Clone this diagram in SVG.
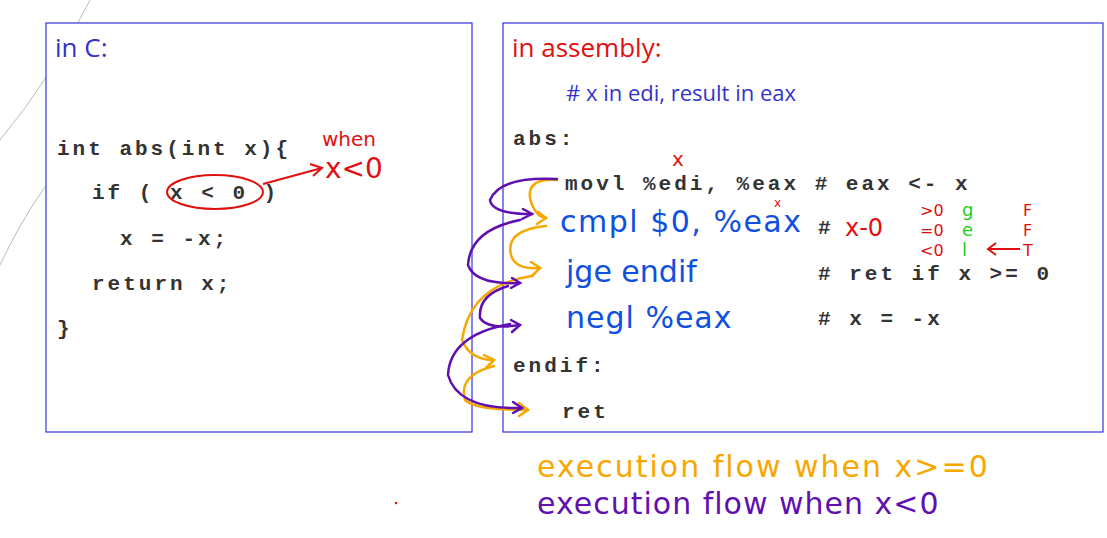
<svg xmlns="http://www.w3.org/2000/svg" width="1107" height="538" viewBox="0 0 1107 538">
<defs>
<style>
.box{fill:#fff;stroke:#3333dd;stroke-width:1.2}
.code{font-family:"Liberation Mono",monospace;font-weight:bold;font-size:21px;letter-spacing:3px;fill:#333}
.o{fill:none;stroke:#f7a800;stroke-width:2.5;stroke-linecap:round}
.p{fill:none;stroke:#6010b0;stroke-width:2.5;stroke-linecap:round}
</style>
</defs>
<rect width="1107" height="538" fill="#fff"/>
<path d="M0,265 Q40,180 95,130 M0,140 Q50,80 90,0" fill="none" stroke="#bbb" stroke-width="1"/>
<g id="c-box">
<rect class="box" x="46" y="23" width="426" height="409"/>
<text x="55" y="57" font-family="Open Sans,sans-serif" font-size="26" fill="#3333cc">in C:</text>
<text class="code" x="57" y="155">int abs(int x){</text>
<text class="code" x="92" y="199">if ( x &lt; 0 )</text>
<text class="code" x="120" y="245">x = -x;</text>
<text class="code" x="92" y="290">return x;</text>
<text class="code" x="57" y="335">}</text>
<ellipse cx="215" cy="192" rx="48" ry="17" fill="none" stroke="#e01010" stroke-width="2"/>
<path d="M263,184 L322,168 M310,164 L322,168 L313,176" fill="none" stroke="#e01010" stroke-width="2"/>
<text x="322" y="146" font-family="DejaVu Sans,sans-serif" font-size="20" fill="#e01010">when</text>
<text x="325" y="178" font-family="DejaVu Sans,sans-serif" font-size="28" fill="#e01010">x&lt;0</text>
</g>
<g id="asm-box">
<rect class="box" x="503" y="23" width="600" height="409"/>
<text x="512" y="57" font-family="Open Sans,sans-serif" font-size="26" fill="#e01010">in assembly:</text>
<text x="566" y="101" font-family="Open Sans,sans-serif" font-size="22" fill="#3333cc"># x in edi, result in eax</text>
<text class="code" x="513" y="145">abs:</text>
<text class="code" x="565" y="190">movl %edi, %eax # eax &lt;- x</text>
<text x="560" y="232" font-family="DejaVu Sans,sans-serif" font-size="30" letter-spacing="1.5" fill="#1050e0">cmpl $0, %eax</text>
<text class="code" x="818" y="234">#</text>
<text x="566" y="282" font-family="DejaVu Sans,sans-serif" font-size="30" fill="#1050e0">jge endif</text>
<text class="code" x="818" y="280"># ret if x &gt;= 0</text>
<text x="566" y="328" font-family="DejaVu Sans,sans-serif" font-size="30" letter-spacing="1" fill="#1050e0">negl %eax</text>
<text class="code" x="818" y="325"># x = -x</text>
<text class="code" x="513" y="372">endif:</text>
<text class="code" x="562" y="418">ret</text>
<text x="672" y="166" font-family="DejaVu Sans,sans-serif" font-size="20" fill="#e01010">x</text>
<text x="774" y="207" font-family="DejaVu Sans,sans-serif" font-size="12" fill="#e01010">x</text>
<text x="845" y="236" font-family="DejaVu Sans,sans-serif" font-size="24" fill="#e01010">x-0</text>
<g font-family="DejaVu Sans,sans-serif" font-size="16" fill="#e01010">
<text x="920" y="216">&gt;0</text><text x="920" y="236">=0</text><text x="920" y="256">&lt;0</text>
<text x="1023" y="216">F</text><text x="1023" y="236">F</text><text x="1023" y="256">T</text>
</g>
<g font-family="DejaVu Sans,sans-serif" font-size="18" fill="#20d020">
<text x="962" y="216">g</text><text x="962" y="236">e</text><text x="962" y="256">l</text>
</g>
<path d="M1020,249 L988,249 M996,243 L988,249 L996,255" fill="none" stroke="#e01010" stroke-width="2"/>
</g>
<g id="connectors">
<path class="o" d="M557,180 Q522,178 532,205 Q538,218 546,218"/><path class="o" d="M538,212 L546,218 L537,224"/>
<path class="o" d="M546,226 Q505,230 511,255 Q515,270 540,268"/><path class="o" d="M531,262 L540,268 L532,276"/>
<path class="o" d="M532,276 Q470,285 462,340 Q470,360 494,360"/><path class="o" d="M484,355 L494,360 L486,368"/>
<path class="o" d="M494,366 Q458,375 465,400 Q475,410 528,410"/><path class="o" d="M519,403 L528,410 L519,416"/>
<path class="p" d="M557,179 Q500,176 490,200 Q492,214 532,214"/><path class="p" d="M523,209 L532,214 L522,219"/>
<path class="p" d="M520,220 Q470,230 468,265 Q475,285 520,283"/><path class="p" d="M512,278 L520,283 L511,288"/>
<path class="p" d="M508,286 Q478,295 480,318 Q488,330 520,325"/><path class="p" d="M511,320 L520,325 L512,332"/>
<path class="p" d="M510,324 Q450,335 448,375 Q458,410 522,408"/><path class="p" d="M513,402 L522,408 L513,413"/>
</g>
<g id="legend">
<text x="537" y="477" font-family="DejaVu Sans,sans-serif" font-size="30" letter-spacing="2" fill="#f7a800">execution flow when x&gt;=0</text>
<text x="537" y="514" font-family="DejaVu Sans,sans-serif" font-size="30" letter-spacing="1" fill="#6010b0">execution flow when  x&lt;0</text>
<circle cx="396" cy="503" r="1.3" fill="#e01010"/>
</g>
</svg>
